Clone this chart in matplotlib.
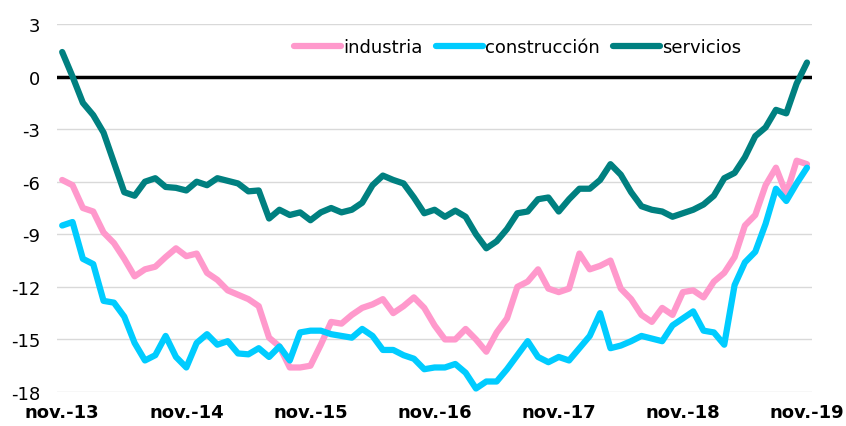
import matplotlib.pyplot as plt
import numpy as np

plt.rcParams['axes.unicode_minus'] = False

# datos mensuales nov-13 .. nov-19
industria = [-5.9, -6.2, -7.5, -7.7, -8.9, -9.5, -10.4, -11.4, -11.0, -10.85,
             -10.3, -9.8, -10.25, -10.1, -11.2, -11.6, -12.2, -12.45, -12.7, -13.1,
             -14.9, -15.4, -16.6, -16.6, -16.5, -15.3, -14.0, -14.1, -13.6, -13.2,
             -13.0, -12.7, -13.5, -13.1, -12.6, -13.2, -14.2, -15.0, -15.0, -14.4,
             -15.0, -15.7, -14.6, -13.8, -12.0, -11.7, -11.0, -12.1, -12.3, -12.1,
             -10.1, -11.0, -10.8, -10.5, -12.1, -12.7, -13.6, -14.0, -13.2, -13.6,
             -12.3, -12.2, -12.6, -11.7, -11.2, -10.3, -8.5, -7.9, -6.2, -5.2,
             -6.7, -4.8, -5.0]
construccion = [-8.5, -8.3, -10.4, -10.7, -12.8, -12.9, -13.7, -15.2, -16.2, -15.9,
                -14.8, -16.0, -16.6, -15.2, -14.7, -15.3, -15.1, -15.8, -15.85, -15.5,
                -16.0, -15.4, -16.2, -14.6, -14.5, -14.5, -14.7, -14.8, -14.9, -14.4,
                -14.8, -15.6, -15.6, -15.9, -16.1, -16.7, -16.6, -16.6, -16.4, -16.9,
                -17.8, -17.4, -17.4, -16.7, -15.9, -15.1, -16.0, -16.3, -16.0, -16.2,
                -15.5, -14.8, -13.5, -15.5, -15.35, -15.1, -14.8, -14.95, -15.1, -14.2,
                -13.8, -13.4, -14.5, -14.6, -15.3, -11.9, -10.6, -10.0, -8.4, -6.4,
                -7.1, -6.1, -5.2]
servicios = [1.4, 0.0, -1.5, -2.2, -3.2, -4.9, -6.6, -6.8, -6.0, -5.8,
             -6.3, -6.35, -6.5, -6.0, -6.2, -5.8, -5.95, -6.1, -6.55, -6.5,
             -8.1, -7.6, -7.9, -7.75, -8.2, -7.75, -7.5, -7.75, -7.6, -7.2,
             -6.2, -5.65, -5.9, -6.1, -6.9, -7.8, -7.6, -8.0, -7.65, -8.0,
             -9.0, -9.8, -9.4, -8.7, -7.8, -7.7, -7.0, -6.9, -7.7, -7.0,
             -6.4, -6.4, -5.9, -5.0, -5.6, -6.6, -7.4, -7.6, -7.7, -8.0,
             -7.8, -7.6, -7.3, -6.8, -5.8, -5.5, -4.6, -3.4, -2.9, -1.9,
             -2.1, -0.4, 0.8]
xlabels = ['nov.-13', 'nov.-14', 'nov.-15', 'nov.-16', 'nov.-17', 'nov.-18', 'nov.-19']

x = np.arange(len(servicios))

fig = plt.figure(figsize=(8.46, 4.27), dpi=100)
ax = fig.add_axes([0.0674, 0.0796, 0.8926, 0.8619])

ax.set_ylim(-18, 3)
ax.set_xlim(-0.5, len(x) - 0.5)
ax.set_yticks(np.arange(-18, 4, 3))
ax.grid(axis='y', color='#d9d9d9', linewidth=1)
ax.set_axisbelow(True)
ax.axhline(0, color='black', linewidth=2.5, zorder=2)

kw = dict(linewidth=4.5, solid_joinstyle='round', solid_capstyle='round', zorder=3)
ax.plot(x, industria, color='#ff99cc', label='industria', **kw)
ax.plot(x, construccion, color='#00ccff', label='construcción', **kw)
ax.plot(x, servicios, color='#008080', label='servicios', **kw)

ax.set_xticks(x[::12])
ax.set_xticklabels(xlabels, fontweight='bold', fontsize=13)
ax.tick_params(axis='x', length=0, pad=8)
ax.tick_params(axis='y', length=0, pad=12, labelsize=13)
for s in ax.spines.values():
    s.set_visible(False)

fig.legend(loc='center', bbox_to_anchor=(0.612, 0.888), ncol=3, frameon=False,
           fontsize=13, handlelength=2.6, handletextpad=0.15, columnspacing=0.7)

plt.savefig('out.png', dpi=100)
